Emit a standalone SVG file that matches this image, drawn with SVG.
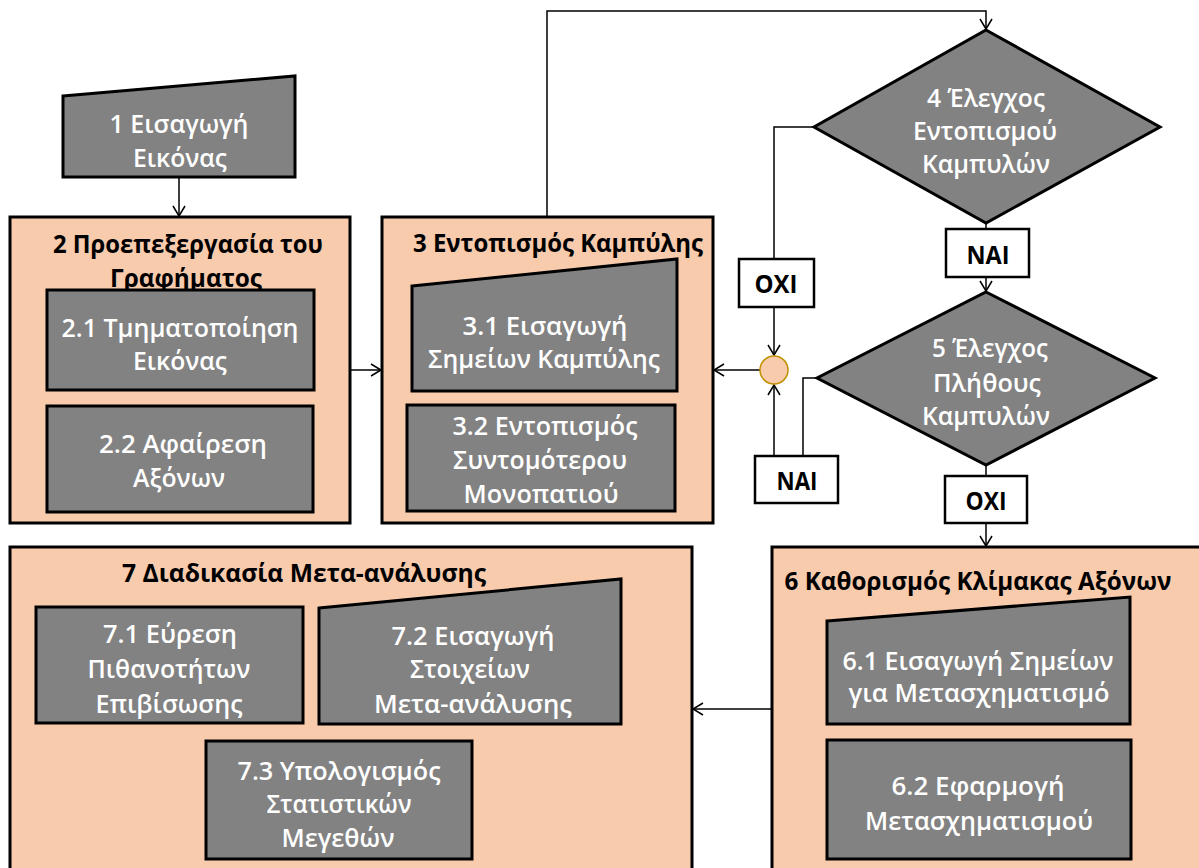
<svg xmlns="http://www.w3.org/2000/svg" width="1199" height="868" viewBox="0 0 1199 868">
<style>
.box{fill:#F8CBAD;stroke:#000;stroke-width:3}
.node{fill:#828282;stroke:#000;stroke-width:3}
.lbl{fill:#fff;stroke:#000;stroke-width:2.5}
.jn{fill:#F8CBAD;stroke:#C09000;stroke-width:1.5}
.conn{fill:none;stroke:#000;stroke-width:1.5}
text{font-family:"Open Sans","Noto Sans","DejaVu Sans",sans-serif;text-anchor:middle;dominant-baseline:central;font-size:25px}
.w{fill:#fff;font-weight:600}
.b{fill:#000;font-weight:bold}
</style>
<defs>
<marker id="arr" markerWidth="14" markerHeight="14" refX="11" refY="7" orient="auto" markerUnits="userSpaceOnUse">
<path d="M1,1 L11,7 L1,13" fill="none" stroke="#000" stroke-width="1.5"/>
</marker>
</defs>
<rect width="1199" height="868" fill="#fff"/>

<g id="connectors">
<path class="conn" d="M179,177 L179,216" marker-end="url(#arr)"/>
<path class="conn" d="M350,370 L381,370" marker-end="url(#arr)"/>
<path class="conn" d="M547,217 L547,11 L986,11 L986,29" marker-end="url(#arr)"/>
<path class="conn" d="M814,127 L774,127 L774,259"/>
<path class="conn" d="M774,307 L774,355" marker-end="url(#arr)"/>
<path class="conn" d="M986,223 L986,229"/>
<path class="conn" d="M986,277 L986,291" marker-end="url(#arr)"/>
<path class="conn" d="M817,378 L803,378 L803,456"/>
<path class="conn" d="M774,456 L774,385" marker-end="url(#arr)"/>
<path class="conn" d="M760,370 L714,370" marker-end="url(#arr)"/>
<path class="conn" d="M986,465 L986,476"/>
<path class="conn" d="M986,523 L986,546" marker-end="url(#arr)"/>
<path class="conn" d="M772,709 L693,709" marker-end="url(#arr)"/>
</g>

<g id="n1">
<polygon class="node" points="63,96 295,76 295,177 63,177"/>
<text class="w" x="179" y="123" textLength="139" lengthAdjust="spacingAndGlyphs">1 Εισαγωγή</text>
<text class="w" x="180" y="157" textLength="94" lengthAdjust="spacingAndGlyphs">Εικόνας</text>
</g>

<g id="n2">
<rect class="box" x="10" y="217" width="340" height="306"/>
<text class="b" x="188" y="243" textLength="270" lengthAdjust="spacingAndGlyphs">2 Προεπεξεργασία του</text>
<text class="b" x="186" y="277" textLength="152" lengthAdjust="spacingAndGlyphs">Γραφήματος</text>
</g>
<g id="n2_1">
<rect class="node" x="47" y="290" width="267" height="100"/>
<text class="w" x="180" y="327" textLength="237" lengthAdjust="spacingAndGlyphs">2.1 Τμηματοποίηση</text>
<text class="w" x="180" y="360" textLength="94" lengthAdjust="spacingAndGlyphs">Εικόνας</text>
</g>
<g id="n2_2">
<rect class="node" x="47" y="406" width="266" height="106"/>
<text class="w" x="183" y="443" textLength="168" lengthAdjust="spacingAndGlyphs">2.2 Αφαίρεση</text>
<text class="w" x="179" y="477" textLength="92" lengthAdjust="spacingAndGlyphs">Αξόνων</text>
</g>

<g id="n3">
<rect class="box" x="382" y="217" width="331" height="306"/>
<text class="b" x="558" y="242" textLength="290" lengthAdjust="spacingAndGlyphs">3 Εντοπισμός Καμπύλης</text>
</g>
<g id="n3_1">
<polygon class="node" points="412,286 677,259 677,391 412,391"/>
<text class="w" x="545" y="325" textLength="165" lengthAdjust="spacingAndGlyphs">3.1 Εισαγωγή</text>
<text class="w" x="544" y="358" textLength="232" lengthAdjust="spacingAndGlyphs">Σημείων Καμπύλης</text>
</g>
<g id="n3_2">
<rect class="node" x="407" y="405" width="268" height="106"/>
<text class="w" x="545" y="425" textLength="185" lengthAdjust="spacingAndGlyphs">3.2 Εντοπισμός</text>
<text class="w" x="540" y="459" textLength="174" lengthAdjust="spacingAndGlyphs">Συντομότερου</text>
<text class="w" x="541" y="493" textLength="155" lengthAdjust="spacingAndGlyphs">Μονοπατιού</text>
</g>

<g id="n4">
<polygon class="node" points="986,30 1160,127 986,223 814,127"/>
<text class="w" x="986" y="97" textLength="118" lengthAdjust="spacingAndGlyphs">4 Έλεγχος</text>
<text class="w" x="985" y="130" textLength="144" lengthAdjust="spacingAndGlyphs">Εντοπισμού</text>
<text class="w" x="986" y="163" textLength="128" lengthAdjust="spacingAndGlyphs">Καμπυλών</text>
</g>
<g id="l_nai1">
<rect class="lbl" x="946" y="229" width="83" height="48"/>
<text class="b" x="988" y="254" textLength="43" lengthAdjust="spacingAndGlyphs">ΝΑΙ</text>
</g>
<g id="l_oxi1">
<rect class="lbl" x="739" y="259" width="75" height="48"/>
<text class="b" x="776" y="283" textLength="43" lengthAdjust="spacingAndGlyphs">ΟΧΙ</text>
</g>
<g id="junction">
<circle class="jn" cx="774" cy="370" r="14"/>
</g>
<g id="n5">
<polygon class="node" points="986,292 1155,378 986,465 817,378"/>
<text class="w" x="990" y="347" textLength="116" lengthAdjust="spacingAndGlyphs">5 Έλεγχος</text>
<text class="w" x="987" y="382" textLength="108" lengthAdjust="spacingAndGlyphs">Πλήθους</text>
<text class="w" x="986" y="415" textLength="128" lengthAdjust="spacingAndGlyphs">Καμπυλών</text>
</g>
<g id="l_nai2">
<rect class="lbl" x="755" y="456" width="83" height="47"/>
<text class="b" x="797" y="480" textLength="41" lengthAdjust="spacingAndGlyphs">ΝΑΙ</text>
</g>
<g id="l_oxi2">
<rect class="lbl" x="945" y="476" width="82" height="47"/>
<text class="b" x="986" y="500" textLength="41" lengthAdjust="spacingAndGlyphs">ΟΧΙ</text>
</g>

<g id="n6">
<rect class="box" x="772" y="547" width="440" height="340"/>
<text class="b" x="978" y="580" textLength="387" lengthAdjust="spacingAndGlyphs">6 Καθορισμός Κλίμακας Αξόνων</text>
</g>
<g id="n6_1">
<polygon class="node" points="827,621 1130,597 1130,724 827,724"/>
<text class="w" x="978" y="660" textLength="271" lengthAdjust="spacingAndGlyphs">6.1 Εισαγωγή Σημείων</text>
<text class="w" x="979" y="692" textLength="261" lengthAdjust="spacingAndGlyphs">για Μετασχηματισμό</text>
</g>
<g id="n6_2">
<rect class="node" x="827" y="740" width="304" height="119"/>
<text class="w" x="978" y="785" textLength="173" lengthAdjust="spacingAndGlyphs">6.2 Εφαρμογή</text>
<text class="w" x="979" y="820" textLength="228" lengthAdjust="spacingAndGlyphs">Μετασχηματισμού</text>
</g>

<g id="n7">
<rect class="box" x="10" y="547" width="682" height="340"/>
<text class="b" x="304" y="572" textLength="364" lengthAdjust="spacingAndGlyphs">7 Διαδικασία Μετα-ανάλυσης</text>
</g>
<g id="n7_1">
<rect class="node" x="36" y="607" width="267" height="116"/>
<text class="w" x="170" y="633" textLength="134" lengthAdjust="spacingAndGlyphs">7.1 Εύρεση</text>
<text class="w" x="169" y="668" textLength="163" lengthAdjust="spacingAndGlyphs">Πιθανοτήτων</text>
<text class="w" x="169" y="703" textLength="147" lengthAdjust="spacingAndGlyphs">Επιβίσωσης</text>
</g>
<g id="n7_2">
<polygon class="node" points="319,608 621,579 621,724 319,724"/>
<text class="w" x="473" y="635" textLength="163" lengthAdjust="spacingAndGlyphs">7.2 Εισαγωγή</text>
<text class="w" x="470" y="668" textLength="120" lengthAdjust="spacingAndGlyphs">Στοιχείων</text>
<text class="w" x="473" y="703" textLength="198" lengthAdjust="spacingAndGlyphs">Μετα-ανάλυσης</text>
</g>
<g id="n7_3">
<rect class="node" x="206" y="741" width="266" height="118"/>
<text class="w" x="339" y="770" textLength="203" lengthAdjust="spacingAndGlyphs">7.3 Υπολογισμός</text>
<text class="w" x="339" y="803" textLength="145" lengthAdjust="spacingAndGlyphs">Στατιστικών</text>
<text class="w" x="338" y="837" textLength="113" lengthAdjust="spacingAndGlyphs">Μεγεθών</text>
</g>
</svg>
